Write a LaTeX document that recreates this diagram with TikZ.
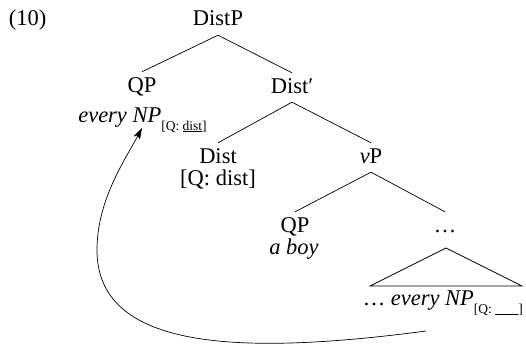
\documentclass[tikz,border=0pt]{standalone}
\usepackage{fontspec}
\setmainfont{Liberation Serif}
\usetikzlibrary{arrows.meta}
\begin{document}
\begin{tikzpicture}[x=1pt,y=-1pt,
  lab/.style={anchor=base, inner sep=0pt, font=\fontsize{22.5}{26}\selectfont},
  cat/.style={lab, inner sep=2pt, text height=18pt, text depth=7pt},
  edge/.style={line width=0.7pt},
  mv/.style={line width=0.7pt, -{Stealth[length=11pt,width=7pt,inset=2pt]}}]
\newcommand{\subfeat}[1]{\raisebox{-8pt}{\fontsize{13.5}{15}\selectfont #1}}
\useasboundingbox (0,0) rectangle (526,345);
\node[lab] (ex) at (27.5,26) {(10)};
\node[cat] (distp) at (218,26) {DistP};
\node[cat] (qp1) at (142,92) {QP};
\node[cat] (distbar) at (292,93) {Dist′};
\node[lab] (qp1t) at (142.5,122) {\textit{every NP}\subfeat{[Q: \underline{dist}]}};
\node[cat] (dist) at (218,163) {Dist};
\node[lab] (distt) at (218,185) {[Q: dist]};
\node[cat] (vp) at (371,163) {\textit{v}P};
\node[cat] (qp2) at (295,232) {QP};
\node[lab] (qp2t) at (294,254) {\textit{a boy}};
\node[cat] (dots) at (445,232) {…};
\node[lab, anchor=base east] (enp) at (523,305) {… \textit{every NP}\subfeat{[Q: \underline{\hspace{1.7em}}]}};
\draw[edge] (distp.south) -- (qp1.north);
\draw[edge] (distp.south) -- (distbar.north);
\draw[edge] (distbar.south) -- (dist.north);
\draw[edge] (distbar.south) -- (vp.north);
\draw[edge] (vp.south) -- (qp2.north);
\draw[edge] (vp.south) -- (dots.north);
\coordinate (tA) at (446,248);
\coordinate (tL) at (370,286);
\coordinate (tR) at (522,286);
\draw[edge] (tA) -- (tL) -- (tR) -- cycle;
\coordinate (as) at (426,331);
\coordinate (al) at (97,250);
\coordinate (atip) at (142,128);
\draw[mv] (as) .. controls (230,357) and (97,347) .. (al) .. controls (97,200) and (125,160) .. (atip);
\end{tikzpicture}
\end{document}
